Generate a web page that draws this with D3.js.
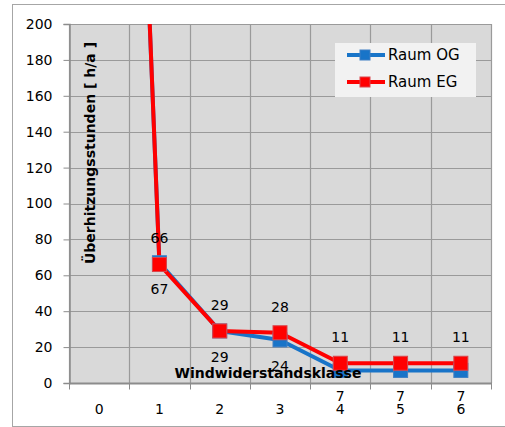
<!DOCTYPE html>
<html>
<head>
<meta charset="utf-8">
<script src="https://cdn.jsdelivr.net/npm/d3@7"></script>
<style>
  html, body { margin: 0; padding: 0; background: #ffffff; overflow: hidden; }
  svg { display: block; font-family: "DejaVu Sans", sans-serif; }
</style>
</head>
<body>
<svg id="chart" width="505" height="427"></svg>
<script>
// Windwiderstandsklassen (x categories)
const categories = ["0", "1", "2", "3", "4", "5", "6"];
// Überhitzungsstunden per class
const raumOG = [890, 67, 29, 24, 7, 7, 7];
const raumEG = [900, 66, 29, 28, 11, 11, 11];
const yTicks = [0, 20, 40, 60, 80, 100, 120, 140, 160, 180, 200];

const seriesList = [
  { name: "Raum OG", values: raumOG, color: "#1874c8", edge: "#3f7fc4", labelPos: "below" },
  { name: "Raum EG", values: raumEG, color: "#ff0000", edge: "#d9464c", labelPos: "above" }
];

const svg = d3.select("#chart");
const plot = { left: 69, right: 491, top: 24, bottom: 383 };
const FS = "14px";

// outer chart frame (right side runs past the window)
svg.append("rect")
  .attr("x", 12.5).attr("y", 4.5)
  .attr("width", 520).attr("height", 422)
  .attr("fill", "#ffffff").attr("stroke", "#a6a6a6").attr("stroke-width", 1);

const x = d3.scaleBand().domain(categories).range([plot.left, plot.right]).padding(0);
const y = d3.scaleLinear().domain([0, 200]).range([plot.bottom, plot.top]);

// plot background
svg.append("rect")
  .attr("x", plot.left).attr("y", plot.top)
  .attr("width", plot.right - plot.left).attr("height", plot.bottom - plot.top)
  .attr("fill", "#d9d9d9");

// horizontal gridlines
svg.append("g").selectAll("line").data(yTicks).join("line")
  .attr("x1", plot.left).attr("x2", plot.right)
  .attr("y1", d => Math.round(y(d)) + 0.5).attr("y2", d => Math.round(y(d)) + 0.5)
  .attr("stroke", "#9a9a9a").attr("stroke-width", 1.2);

// vertical gridlines at category boundaries
const bounds = categories.map(c => x(c)).concat([plot.right]);
svg.append("g").selectAll("line").data(bounds).join("line")
  .attr("x1", d => Math.round(d) + 0.5).attr("x2", d => Math.round(d) + 0.5)
  .attr("y1", plot.top).attr("y2", plot.bottom)
  .attr("stroke", "#9a9a9a").attr("stroke-width", 1.2);

// y axis
const yAxis = svg.append("g")
  .attr("transform", `translate(${plot.left + 0.5},0)`)
  .call(d3.axisLeft(y).tickValues(yTicks).tickSize(6).tickPadding(11));
yAxis.select(".domain").attr("stroke", "#8c8c8c").attr("stroke-width", 1.5);
yAxis.selectAll(".tick line").attr("stroke", "#8c8c8c");
yAxis.selectAll(".tick text").attr("fill", "#000").attr("font-size", FS)
  .attr("font-family", "'DejaVu Sans', sans-serif");

// x axis: ticks at category boundaries, labels at category centres
const xAxisG = svg.append("g").attr("transform", `translate(0,${plot.bottom + 0.5})`);
xAxisG.append("line")
  .attr("x1", plot.left).attr("x2", plot.right + 1)
  .attr("stroke", "#8c8c8c").attr("stroke-width", 2);
xAxisG.selectAll("line.tk").data(bounds).join("line").attr("class", "tk")
  .attr("x1", d => Math.round(d) + 0.5).attr("x2", d => Math.round(d) + 0.5)
  .attr("y1", 0).attr("y2", 6).attr("stroke", "#8c8c8c");
xAxisG.selectAll("text").data(categories).join("text")
  .attr("x", d => x(d) + x.bandwidth() / 2)
  .attr("y", 30)
  .attr("text-anchor", "middle").attr("font-size", FS).attr("fill", "#000")
  .text(d => d);

// series lines, clipped to the plot area
svg.append("clipPath").attr("id", "plotClip")
  .append("rect").attr("x", plot.left).attr("y", plot.top)
  .attr("width", plot.right - plot.left).attr("height", plot.bottom - plot.top + 10);

const cx = (d, i) => x(categories[i]) + x.bandwidth() / 2;
const line = d3.line().x(cx).y(d => y(d));

const marks = svg.append("g").attr("clip-path", "url(#plotClip)");
seriesList.forEach(s => {
  marks.append("path").datum(s.values)
    .attr("d", line).attr("fill", "none")
    .attr("stroke", s.color).attr("stroke-width", 4).attr("stroke-linejoin", "round");
});
const ms = 14;
seriesList.forEach(s => {
  marks.append("g").selectAll("rect").data(s.values).join("rect")
    .attr("x", (d, i) => cx(d, i) - ms / 2).attr("y", d => y(d) - ms / 2)
    .attr("width", ms).attr("height", ms)
    .attr("fill", s.color).attr("stroke", s.edge).attr("stroke-width", 1);
});

// value labels
seriesList.forEach(s => {
  svg.append("g").selectAll("text")
    .data(s.values.map((v, i) => ({ v, i })).filter(d => d.v <= 200))
    .join("text")
    .attr("x", d => cx(d.v, d.i))
    .attr("y", d => y(d.v) + (s.labelPos === "above" ? -26 : 26))
    .attr("dy", "0.35em")
    .attr("text-anchor", "middle").attr("font-size", FS).attr("fill", "#000")
    .text(d => d.v);
});

// axis titles
svg.append("text")
  .attr("x", 268).attr("y", 378)
  .attr("text-anchor", "middle").attr("font-size", "14px").attr("font-weight", "bold")
  .attr("fill", "#000")
  .text("Windwiderstandsklasse");

svg.append("text")
  .attr("transform", "translate(95,153) rotate(-90)")
  .attr("text-anchor", "middle").attr("font-size", "14px").attr("font-weight", "bold")
  .attr("fill", "#000")
  .text("Überhitzungsstunden [ h/a ]");

// legend
const legend = svg.append("g");
legend.append("rect")
  .attr("x", 335).attr("y", 43).attr("width", 141).attr("height", 54)
  .attr("fill", "#f2f2f2");
seriesList.forEach((s, k) => {
  const ly = 55 + k * 27;
  legend.append("line")
    .attr("x1", 347).attr("x2", 385).attr("y1", ly).attr("y2", ly)
    .attr("stroke", s.color).attr("stroke-width", 4);
  legend.append("rect")
    .attr("x", 360).attr("y", ly - 5).attr("width", 10).attr("height", 10)
    .attr("fill", s.color).attr("stroke", s.edge).attr("stroke-width", 1);
  legend.append("text")
    .attr("x", 388).attr("y", ly).attr("dy", "0.35em")
    .attr("font-size", "15px").attr("fill", "#000")
    .text(s.name);
});
</script>
</body>
</html>
